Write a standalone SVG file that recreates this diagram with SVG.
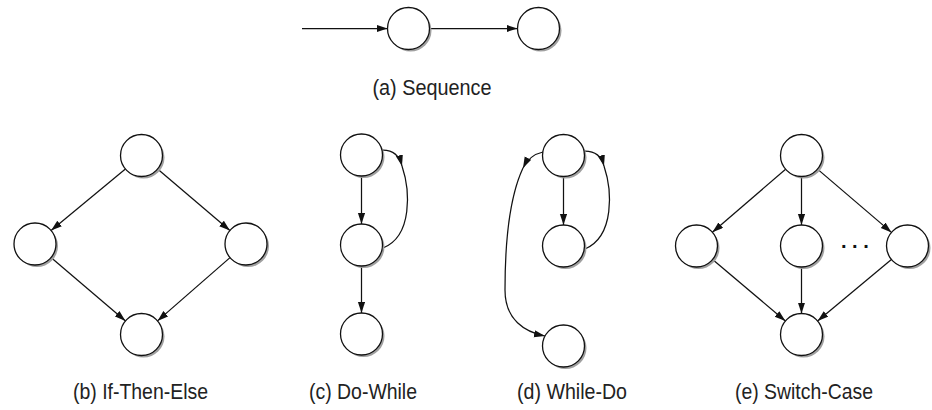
<svg xmlns="http://www.w3.org/2000/svg" width="932" height="410" viewBox="0 0 932 410">
<style>
.sh{fill:#a0a0a0;stroke:none}
.c{fill:#fff;stroke:#111;stroke-width:1.3}
.e line,.e path{stroke:#111;stroke-width:1.25;fill:none}
.lbl{font-family:"Liberation Sans",Arial,sans-serif;font-size:22px;fill:#222;text-anchor:middle}
.dots{font-family:"Liberation Sans",Arial,sans-serif;font-size:20px;font-weight:bold;fill:#111}
</style>
<defs>
<marker id="ah" markerUnits="userSpaceOnUse" markerWidth="12" markerHeight="8" refX="11" refY="3.6" orient="auto">
<path d="M0,0 L11,3.6 L0,7.2 Z" fill="#111"/>
</marker>
<g id="node"><circle class="sh" cx="2" cy="2" r="21"/><circle class="c" cx="0" cy="0" r="21"/></g>
</defs>

<g id="connectors" class="e">
<!-- (a) -->
<line x1="302" y1="28.5" x2="387.5" y2="28.5" marker-end="url(#ah)"/>
<line x1="429.5" y1="28.5" x2="517.5" y2="28.5" marker-end="url(#ah)"/>
<!-- (b) -->
<line x1="125.4" y1="168.9" x2="51.1" y2="230.6" marker-end="url(#ah)"/>
<line x1="157.6" y1="168.9" x2="229.9" y2="230.6" marker-end="url(#ah)"/>
<line x1="51" y1="257.6" x2="125.5" y2="320.9" marker-end="url(#ah)"/>
<line x1="230" y1="257.6" x2="157.5" y2="320.9" marker-end="url(#ah)"/>
<!-- (c) -->
<line x1="361.5" y1="176" x2="361.5" y2="224" marker-end="url(#ah)"/>
<line x1="361.5" y1="266" x2="361.5" y2="313" marker-end="url(#ah)"/>
<path d="M383,150 C395,150 400,158 402,166" marker-end="url(#ah)"/>
<path d="M402,166 C410,190 413,236 383,248"/>
<!-- (d) -->
<line x1="563.5" y1="176.5" x2="563.5" y2="225" marker-end="url(#ah)"/>
<path d="M585,151 C597,151 602,158 604,166" marker-end="url(#ah)"/>
<path d="M604,166 C612,190 615,236 585,249"/>
<path d="M543,152 C534,154 527,160 523,168" marker-end="url(#ah)"/>
<path d="M523,168 C508,200 505,250 505,290 C505,320 525,332 545,336" marker-end="url(#ah)"/>
<!-- (e) -->
<line x1="785.6" y1="169.2" x2="712.4" y2="232.3" marker-end="url(#ah)"/>
<line x1="801.5" y1="176.5" x2="801.5" y2="225" marker-end="url(#ah)"/>
<line x1="817.5" y1="169.1" x2="891.5" y2="232.4" marker-end="url(#ah)"/>
<line x1="712.6" y1="259.5" x2="785.4" y2="321" marker-end="url(#ah)"/>
<line x1="801.5" y1="267" x2="801.5" y2="313.5" marker-end="url(#ah)"/>
<line x1="891.4" y1="259.5" x2="817.6" y2="321" marker-end="url(#ah)"/>
</g>

<g id="a1"><use href="#node" x="408.5" y="28.5"/></g>
<g id="a2"><use href="#node" x="538.5" y="28.5"/></g>

<g id="b1"><use href="#node" x="141.5" y="155.5"/></g>
<g id="b2"><use href="#node" x="35" y="244"/></g>
<g id="b3"><use href="#node" x="246" y="244"/></g>
<g id="b4"><use href="#node" x="141.5" y="334.5"/></g>

<g id="c1"><use href="#node" x="361.5" y="155"/></g>
<g id="c2"><use href="#node" x="361.5" y="245"/></g>
<g id="c3"><use href="#node" x="361.5" y="334"/></g>

<g id="d1"><use href="#node" x="563.5" y="155.5"/></g>
<g id="d2"><use href="#node" x="563.5" y="246"/></g>
<g id="d3"><use href="#node" x="563.5" y="346"/></g>

<g id="e1"><use href="#node" x="801.5" y="155.5"/></g>
<g id="e2"><use href="#node" x="696.5" y="246"/></g>
<g id="e3"><use href="#node" x="801.5" y="246"/></g>
<g id="e4"><use href="#node" x="907.5" y="246"/></g>
<g id="e5"><use href="#node" x="801.5" y="334.5"/></g>
<text class="dots" x="841" y="248">. . .</text>

<g id="labels">
<text class="lbl" x="432" y="95" textLength="119" lengthAdjust="spacingAndGlyphs">(a) Sequence</text>
<text class="lbl" x="140.5" y="399" textLength="135" lengthAdjust="spacingAndGlyphs">(b) If-Then-Else</text>
<text class="lbl" x="363" y="399" textLength="108" lengthAdjust="spacingAndGlyphs">(c) Do-While</text>
<text class="lbl" x="572" y="399" textLength="110" lengthAdjust="spacingAndGlyphs">(d) While-Do</text>
<text class="lbl" x="804" y="399" textLength="138" lengthAdjust="spacingAndGlyphs">(e) Switch-Case</text>
</g>
</svg>
